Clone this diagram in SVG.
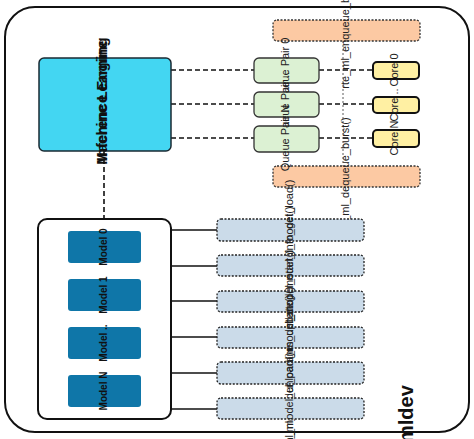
<svg xmlns="http://www.w3.org/2000/svg" width="474" height="439" viewBox="0 0 474 439">
<style>
text{font-family:"Liberation Sans",Arial,sans-serif;fill:#111}
.lbl{font-size:11px;text-anchor:middle;fill:#222}
.dash{stroke:#111;stroke-width:1.6;stroke-dasharray:5 3;fill:none}
.solid{stroke:#111;stroke-width:1.5;fill:none}
.api{fill:#cbdbe9;stroke:#222;stroke-width:1.3;stroke-dasharray:2 1.5}
.qp{fill:#dcf1d3;stroke:#333;stroke-width:1.3}
.core{fill:#fff0a3;stroke:#111;stroke-width:2}
.bar{fill:#fcc9a3;stroke:#333;stroke-width:1.3;stroke-dasharray:2 1.5}
.model{fill:#0f76a8}
.mlbl{font-size:10px;font-weight:bold;text-anchor:middle}
.elbl{font-size:15px;font-weight:bold;text-anchor:middle}
</style>
<g id="mldev">
<rect x="5" y="7" width="464" height="425" rx="30" fill="#fff" stroke="#111" stroke-width="2"/>
<text x="413" y="443" transform="rotate(-90 413 443)" style="font-size:20px;font-weight:bold">mldev</text>
</g>
<g id="connectors">
<line class="dash" x1="104" y1="151" x2="104" y2="219"/>
<line class="dash" x1="171" y1="70" x2="254" y2="70"/>
<line class="dash" x1="171" y1="104" x2="254" y2="104"/>
<line class="dash" x1="171" y1="138" x2="254" y2="138"/>
<line class="dash" x1="319" y1="70" x2="373" y2="70"/>
<line class="dash" x1="319" y1="104" x2="373" y2="104"/>
<line class="dash" x1="319" y1="138" x2="373" y2="138"/>
<line x1="343" y1="41" x2="343" y2="166" stroke="#333" stroke-width="0.8" stroke-dasharray="2 2"/>
<line class="solid" x1="171" y1="230" x2="217" y2="230"/>
<line class="solid" x1="171" y1="266" x2="217" y2="266"/>
<line class="solid" x1="171" y1="301" x2="217" y2="301"/>
<line class="solid" x1="171" y1="337" x2="217" y2="337"/>
<line class="solid" x1="171" y1="373" x2="217" y2="373"/>
<line class="solid" x1="171" y1="409" x2="217" y2="409"/>
</g>
<g id="engine">
<rect x="39" y="58" width="132" height="93" rx="5" fill="#43d6f2" stroke="#1a2a33" stroke-width="1.5"/>
<text class="elbl" x="101" y="107" transform="rotate(-90 101 101)">Machine Learning</text>
<text class="elbl" x="101" y="107" transform="rotate(-90 101 101)">Inference Engine</text>
</g>
<g id="enqueue">
<rect class="bar" x="273" y="20" width="147" height="21" rx="4"/>
<text class="lbl" x="346" y="33" transform="rotate(-90 346 30)">rte_ml_enqueue_burst()</text>
</g>
<g id="dequeue">
<rect class="bar" x="273" y="166" width="147" height="21" rx="4"/>
<text class="lbl" x="346" y="179" transform="rotate(-90 346 176)">rte_ml_dequeue_burst()</text>
</g>
<g id="qp0">
<rect class="qp" x="254" y="58" width="65" height="25" rx="5"/>
<text class="lbl" x="286" y="73" transform="rotate(-90 286 70)">Queue Pair 0</text>
</g>
<g id="qp1">
<rect class="qp" x="254" y="92" width="65" height="25" rx="5"/>
<text class="lbl" x="286" y="107" transform="rotate(-90 286 104)">Queue Pair ..</text>
</g>
<g id="qpN">
<rect class="qp" x="254" y="126" width="65" height="26" rx="5"/>
<text class="lbl" x="286" y="141" transform="rotate(-90 286 138)">Queue Pair N</text>
</g>
<g id="core0">
<rect class="core" x="373" y="62" width="46" height="17" rx="4"/>
<text class="lbl" x="395" y="73" transform="rotate(-90 395 70)">Core 0</text>
</g>
<g id="core1">
<rect class="core" x="373" y="97" width="46" height="16" rx="4"/>
<text class="lbl" x="395" y="108" transform="rotate(-90 395 105)">Core ..</text>
</g>
<g id="coreN">
<rect class="core" x="373" y="130" width="46" height="17" rx="4"/>
<text class="lbl" x="395" y="141" transform="rotate(-90 395 138)">Core N</text>
</g>
<g id="models">
<rect x="38" y="219" width="133" height="200" rx="9" fill="#fff" stroke="#111" stroke-width="2"/>
</g>
<g id="model0">
<rect class="model" x="68" y="231" width="73" height="32" rx="3"/>
<text class="mlbl" x="104" y="250" transform="rotate(-90 104 247)">Model 0</text>
</g>
<g id="model1">
<rect class="model" x="68" y="279" width="73" height="32" rx="3"/>
<text class="mlbl" x="104" y="298" transform="rotate(-90 104 295)">Model 1</text>
</g>
<g id="model2">
<rect class="model" x="68" y="327" width="73" height="32" rx="3"/>
<text class="mlbl" x="104" y="346" transform="rotate(-90 104 343)">Model ..</text>
</g>
<g id="modelN">
<rect class="model" x="68" y="375" width="73" height="32" rx="3"/>
<text class="mlbl" x="104" y="394" transform="rotate(-90 104 391)">Model N</text>
</g>
<g id="api_load">
<rect class="api" x="217" y="219" width="147" height="22" rx="4"/>
<text class="lbl" x="290" y="233" transform="rotate(-90 290 230)">rte_ml_model_load()</text>
</g>
<g id="api_info">
<rect class="api" x="217" y="255" width="147" height="21" rx="4"/>
<text class="lbl" x="290" y="269" transform="rotate(-90 290 266)">rte_ml_model_info_get()</text>
</g>
<g id="api_start">
<rect class="api" x="217" y="291" width="147" height="21" rx="4"/>
<text class="lbl" x="290" y="304" transform="rotate(-90 290 301)">rte_ml_model_start()</text>
</g>
<g id="api_stop">
<rect class="api" x="217" y="327" width="147" height="21" rx="4"/>
<text class="lbl" x="290" y="340" transform="rotate(-90 290 337)">rte_ml_model_stop()</text>
</g>
<g id="api_params">
<rect class="api" x="217" y="362" width="147" height="22" rx="4"/>
<text class="lbl" x="290" y="376" transform="rotate(-90 290 373)">rte_ml_model_params_update()</text>
</g>
<g id="api_unload">
<rect class="api" x="217" y="398" width="147" height="21" rx="4"/>
<text class="lbl" x="290" y="412" transform="rotate(-90 290 409)">rte_ml_model_unload()</text>
</g>
</svg>
